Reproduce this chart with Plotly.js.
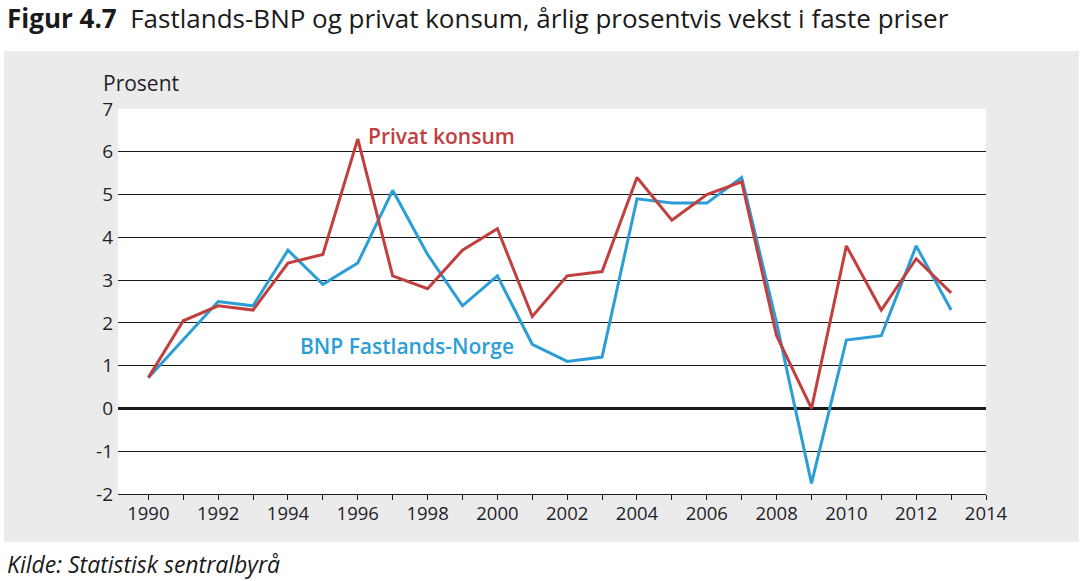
<!DOCTYPE html>
<html>
<head>
<meta charset="utf-8">
<script src="https://cdn.plot.ly/plotly-3.0.1.min.js"></script>
<style>
html,body{margin:0;padding:0;background:#fff;}
#chart{width:1092px;height:581px;}
</style>
</head>
<body>
<div id="chart"></div>
<script>
// ---- Data ----
const years = [1990,1991,1992,1993,1994,1995,1996,1997,1998,1999,2000,2001,2002,2003,2004,2005,2006,2007,2008,2009,2010,2011,2012,2013];
const bnpFastland = [0.72,1.6,2.5,2.4,3.7,2.9,3.4,5.1,3.6,2.4,3.1,1.5,1.1,1.2,4.9,4.8,4.8,5.4,2.0,-1.75,1.6,1.7,3.8,2.3];
const privatKonsum = [0.72,2.05,2.4,2.3,3.4,3.6,6.3,3.1,2.8,3.7,4.2,2.15,3.1,3.2,5.4,4.4,5.0,5.3,1.7,0.0,3.8,2.3,3.5,2.7];
const xTickVals = [1990,1991,1992,1993,1994,1995,1996,1997,1998,1999,2000,2001,2002,2003,2004,2005,2006,2007,2008,2009,2010,2011,2012,2013,2014];
const xTickText = ['1990','','1992','','1994','','1996','','1998','','2000','','2002','','2004','','2006','','2008','','2010','','2012','','2014'];
const yTickVals = [-2,-1,0,1,2,3,4,5,6,7];
const yTickText = ['-2','-1','0','1','2','3','4','5','6','7'];
const titleBold = 'Figur 4.7';
const titleText = 'Fastlands-BNP og privat konsum, årlig prosentvis vekst i faste priser';
const yUnit = 'Prosent';
const source = 'Kilde: Statistisk sentralbyrå';
const labelKonsum = 'Privat konsum';
const labelBnp = 'BNP Fastlands-Norge';

// ---- Layout geometry (pixels) ----
const W = 1092, H = 581;
const L = 118, R = 986, T = 109, B = 494;
const px = x => (x - L) / (R - L);
const py = y => (B - y) / (B - T);

const RED = '#C1403F';
const BLUE = '#2B9ED6';
const FONT = 'Open Sans, Noto Sans, sans-serif';

const traces = [
  {x: years, y: bnpFastland, type: 'scatter', mode: 'lines', name: labelBnp,
   line: {color: BLUE, width: 3}, hoverinfo: 'skip'},
  {x: years, y: privatKonsum, type: 'scatter', mode: 'lines', name: labelKonsum,
   line: {color: RED, width: 3}, hoverinfo: 'skip'}
];

const layout = {
  width: W, height: H,
  margin: {l: L, r: W - R, t: T, b: H - B, pad: 0},
  paper_bgcolor: '#ffffff',
  plot_bgcolor: '#ffffff',
  showlegend: false,
  hovermode: false,
  font: {family: FONT, color: '#1f1f2a', size: 18},
  xaxis: {
    range: [1989.13, 2014.0],
    tickmode: 'array', tickvals: xTickVals, ticktext: xTickText,
    ticks: 'outside', ticklen: 5, tickwidth: 1, tickcolor: '#1a1a1a',
    showline: true, linecolor: '#1a1a1a', linewidth: 1,
    showgrid: false, zeroline: false,
    tickfont: {family: FONT, size: 18.5, color: '#1f1f2a'},
    ticklabelstandoff: -2,
    fixedrange: true
  },
  yaxis: {
    range: [-2, 7],
    tickmode: 'array', tickvals: yTickVals, ticktext: yTickText,
    ticks: '', showline: false,
    showgrid: true, gridcolor: '#1a1a1a', gridwidth: 1,
    zeroline: true, zerolinecolor: '#1a1a1a', zerolinewidth: 2.5,
    tickfont: {family: FONT, size: 19, color: '#1f1f2a'},
    ticklabelstandoff: 4,
    fixedrange: true
  },
  shapes: [
    {type: 'rect', xref: 'paper', yref: 'paper', layer: 'below',
     x0: px(4), x1: px(1079), y0: py(541.7), y1: py(51),
     fillcolor: '#EBEBEB', line: {width: 0}},
    {type: 'rect', xref: 'paper', yref: 'paper', layer: 'below',
     x0: 0, x1: 1, y0: 0, y1: 1,
     fillcolor: '#ffffff', line: {width: 0}}
  ],
  annotations: [
    {xref: 'paper', yref: 'paper', x: px(5), y: py(18), xanchor: 'left', yanchor: 'middle',
     text: '<b>' + titleBold + '</b>&nbsp;&nbsp;' + titleText, showarrow: false,
     font: {family: FONT, size: 26, color: '#1a1a1a'}},
    {xref: 'paper', yref: 'paper', x: px(101), y: py(83), xanchor: 'left', yanchor: 'middle',
     text: yUnit, showarrow: false,
     font: {family: FONT, size: 21, color: '#1f1f2a'}},
    {xref: 'paper', yref: 'paper', x: px(5), y: py(564), xanchor: 'left', yanchor: 'middle',
     text: '<i>' + source + '</i>', showarrow: false,
     font: {family: FONT, size: 23, color: '#1a1a1a'}},
    {xref: 'paper', yref: 'paper', x: px(366), y: py(136), xanchor: 'left', yanchor: 'middle',
     text: labelKonsum, showarrow: false,
     font: {family: FONT, size: 21, weight: 600, color: RED}},
    {xref: 'paper', yref: 'paper', x: px(298), y: py(346), xanchor: 'left', yanchor: 'middle',
     text: labelBnp, showarrow: false,
     font: {family: FONT, size: 21, weight: 600, color: BLUE}}
  ]
};

Plotly.newPlot('chart', traces, layout, {displayModeBar: false, staticPlot: true});
</script>
</body>
</html>
